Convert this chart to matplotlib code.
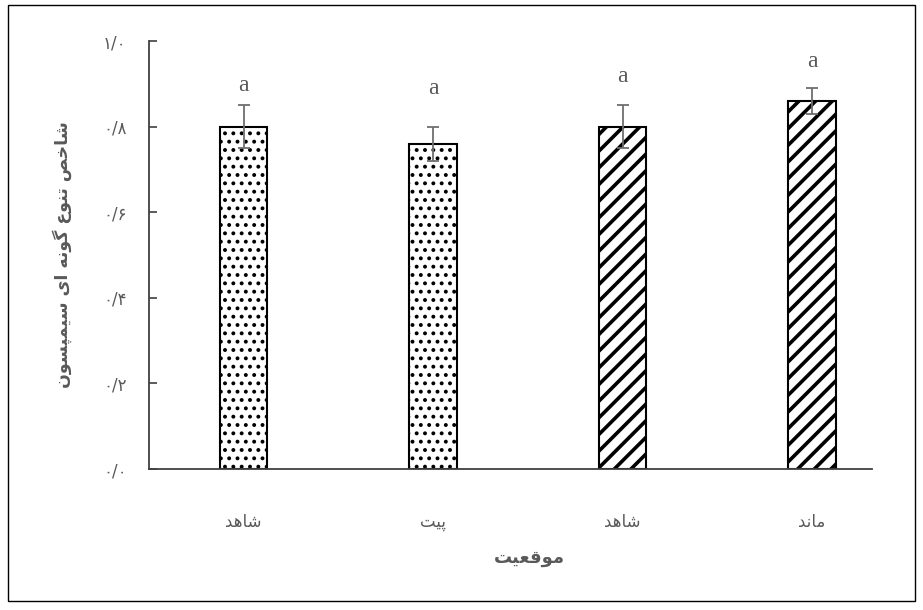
import matplotlib
matplotlib.use("Agg")
import matplotlib.pyplot as plt
from matplotlib.patches import Rectangle

# Persian letters -> presentation forms (isolated, final, initial, medial).
# Two-form letters only join to the letter before them.
FORMS = {
    "ا": "\uFE8D\uFE8E", "د": "\uFEA9\uFEAA", "و": "\uFEED\uFEEE",
    "ه": "\uFEE9\uFEEA\uFEEB\uFEEC", "ش": "\uFEB5\uFEB6\uFEB7\uFEB8",
    "ت": "\uFE95\uFE96\uFE97\uFE98", "م": "\uFEE1\uFEE2\uFEE3\uFEE4",
    "ن": "\uFEE5\uFEE6\uFEE7\uFEE8", "ق": "\uFED5\uFED6\uFED7\uFED8",
    "ع": "\uFEC9\uFECA\uFECB\uFECC", "خ": "\uFEA5\uFEA6\uFEA7\uFEA8",
    "ص": "\uFEB9\uFEBA\uFEBB\uFEBC", "س": "\uFEB1\uFEB2\uFEB3\uFEB4",
    "پ": "\uFB56\uFB57\uFB58\uFB59", "گ": "\uFB92\uFB93\uFB94\uFB95",
    "ی": "\uFBFC\uFBFD\uFBFE\uFBFF",
}


def fa(text):
    out = []
    for i, ch in enumerate(text):
        forms = FORMS.get(ch)
        if forms is None:
            out.append(ch)
            continue
        prev = text[i - 1] if i > 0 else ""
        nxt = text[i + 1] if i + 1 < len(text) else ""
        join_prev = prev in FORMS and len(FORMS[prev]) == 4
        join_next = len(forms) == 4 and nxt in FORMS
        idx = 3 if (join_prev and join_next) else 1 if join_prev else 2 if join_next else 0
        out.append(forms[idx])
    return "".join(reversed(out))


categories = ["شاهد", "پیت", "شاهد", "ماند"]
means = [0.80, 0.76, 0.80, 0.86]
errors = [0.05, 0.04, 0.05, 0.03]
letters = ["a", "a", "a", "a"]
letter_y = [0.895, 0.890, 0.916, 0.951]
hatches = ["..", "..", "//", "//"]
yticks = [0.0, 0.2, 0.4, 0.6, 0.8, 1.0]
ytick_labels = ["۰/۰", "۰/۲", "۰/۴", "۰/۶", "۰/۸", "۱/۰"]
xlabel = "موقعیت"
ylabel = "شاخص تنوع گونه ای سیمپسون"

GRAY = "#595959"
FA_FONT = ["DejaVu Sans"]

fig = plt.figure(figsize=(9.23, 6.10), dpi=100)
ax = fig.add_axes([149 / 923, 1 - 469 / 610, (872 - 149) / 923, 428 / 610])

for i, (m, h) in enumerate(zip(means, hatches)):
    lw = 2.6 if "/" in h else 1.6
    with plt.rc_context({"hatch.linewidth": lw, "hatch.color": "#222222"}):
        bar = ax.bar(i, m, width=0.25, color="white", edgecolor="black",
                     linewidth=1.5, hatch=h, zorder=2)
    for p in bar.patches:
        if hasattr(p, "set_hatch_linewidth"):
            p.set_hatch_linewidth(lw)

ax.errorbar(range(len(means)), means, yerr=errors, fmt="none", ecolor="#6e6e6e",
            elinewidth=1.3, capsize=4, capthick=1.3, zorder=3)

for i, (t, y) in enumerate(zip(letters, letter_y)):
    ax.text(i, y, t, ha="center", va="center", fontsize=17, color=GRAY,
            family="Liberation Serif")

ax.set_xlim(-0.5, 3.317)
ax.set_ylim(0, 1.0)
ax.set_yticks(yticks)
ax.set_yticklabels(ytick_labels, family=FA_FONT, fontsize=12, color=GRAY)
ax.set_xticks(range(len(categories)))
ax.set_xticklabels([fa(c) for c in categories], family=FA_FONT, fontsize=12, color=GRAY)
ax.tick_params(axis="y", direction="in", length=6, width=1.2, pad=16, colors="#404040",
               labelcolor=GRAY)
ax.tick_params(axis="x", length=0, pad=32, labelcolor=GRAY)

for side in ("top", "right"):
    ax.spines[side].set_visible(False)
for side in ("left", "bottom"):
    ax.spines[side].set_color("#404040")
    ax.spines[side].set_linewidth(1.3)

fig.text(62 / 923, 1 - 255 / 610, fa(ylabel), rotation=90, ha="center", va="center",
         fontsize=12.5, fontweight="bold", color=GRAY, family=FA_FONT)
fig.text(529 / 923, 1 - 558 / 610, fa(xlabel), ha="center", va="center",
         fontsize=13, fontweight="bold", color=GRAY, family=FA_FONT)

fig.patches.append(Rectangle((8 / 923, 9 / 610), 907 / 923, 596 / 610,
                             transform=fig.transFigure, fill=False,
                             edgecolor="black", linewidth=1.0))

fig.savefig("out.png", dpi=100)
